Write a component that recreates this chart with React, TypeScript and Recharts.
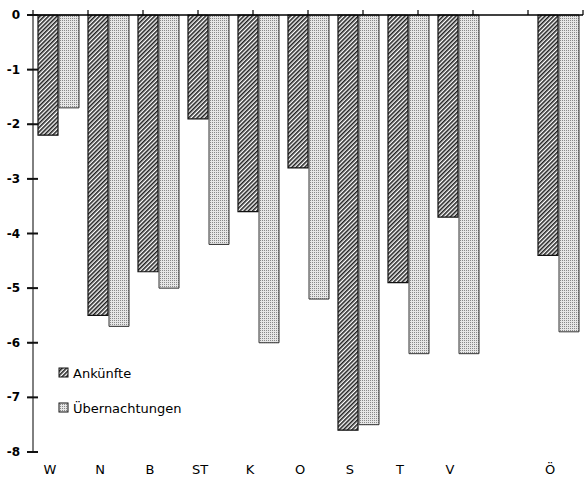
import React from 'react'
import { BarChart, Bar, XAxis, YAxis } from 'recharts'

const regions = ['W', 'N', 'B', 'ST', 'K', 'O', 'S', 'T', 'V', '', 'Ö']
const ankuenfte = [-2.2, -5.5, -4.7, -1.9, -3.6, -2.8, -7.6, -4.9, -3.7, null, -4.4]
const uebernachtungen = [-1.7, -5.7, -5.0, -4.2, -6.0, -5.2, -7.5, -6.2, -6.2, null, -5.8]
const yTicks = [0, -1, -2, -3, -4, -5, -6, -7, -8]
const slotTicks = [0, 1, 2, 3, 4, 5, 6, 7, 8, 9, 10, 11]

const data = regions.map((r, i) => ({ r, a: ankuenfte[i], u: uebernachtungen[i] }))

const font = '"DejaVu Sans", sans-serif'

function Patterns({ p }: { p: string }) {
  return (
    <defs>
      <pattern id={p + 'hatch'} width="3" height="3" patternUnits="userSpaceOnUse" patternTransform="rotate(45)">
        <rect width="3" height="3" fill="#fff" />
        <rect x="0" y="0" width="1.6" height="3" fill="#222" />
      </pattern>
      <pattern id={p + 'dots'} width="2" height="2" patternUnits="userSpaceOnUse">
        <rect width="2" height="2" fill="#e6e6e6" />
        <rect x="0" y="0" width="1" height="1" fill="#888" />
      </pattern>
    </defs>
  )
}

// y tick: mark crossing the axis, bold label on the left
const renderYTick = (props: any) => {
  const { x, y, payload } = props
  return (
    <g>
      <rect x={x + 3} y={y - 1} width={11} height={2} fill="#111" />
      <text x={x - 4} y={y + 4} textAnchor="end" fontSize={12} fontWeight="bold" fontFamily={font} fill="#000">
        {payload.value}
      </text>
    </g>
  )
}

const renderXTick = (props: any) => {
  const { x, y, payload } = props
  return (
    <text x={x - 8} y={y + 14} textAnchor="middle" fontSize={13} fontFamily={font} fill="#000">
      {payload.value}
    </text>
  )
}

// small upward marks on the zero line at category boundaries
const renderTopTick = (props: any) => {
  const { x, y } = props
  return <rect x={x - 0.6} y={y - 5} width={1.2} height={5} fill="#000" />
}

export default function App() {
  return (
    <div style={{ position: 'absolute', left: 0, top: 0, width: 585, height: 485, background: '#fff' }}>
      <BarChart width={585} height={485} data={data} margin={{ top: 14, right: 2, bottom: 0, left: 0 }}
        barGap={1} barCategoryGap="10%">
        <Patterns p="c" />
        <XAxis dataKey="r" xAxisId="cat" axisLine={false} tickLine={false} height={33} tick={renderXTick} interval={0} />
        <XAxis xAxisId="top" orientation="top" type="number" domain={[0, 11]} ticks={slotTicks} allowDataOverflow
          height={1} axisLine={{ stroke: '#000', strokeWidth: 1.3 }} tickLine={false}
          tickSize={0} tickMargin={0} interval={0} tick={renderTopTick} />
        <YAxis domain={[-8, 0]} ticks={yTicks} width={33} tickSize={5} tickMargin={4} interval={0}
          stroke="#000" tick={renderYTick} />
        <Bar xAxisId="cat" dataKey="a" fill="url(#chatch)" stroke="#111" strokeWidth={1.2} isAnimationActive={false} />
        <Bar xAxisId="cat" dataKey="u" fill="url(#cdots)" stroke="#333" strokeWidth={1} isAnimationActive={false} />
      </BarChart>
      <div style={{ position: 'absolute', left: 58, top: 366, fontFamily: font, fontSize: 13 }}>
        <svg width={12} height={12} style={{ verticalAlign: -1, marginRight: 3 }}>
          <Patterns p="l" />
          <rect x={1} y={1} width={9} height={9} fill="url(#lhatch)" stroke="#111" />
        </svg>
        Ankünfte
      </div>
      <div style={{ position: 'absolute', left: 58, top: 401, fontFamily: font, fontSize: 13 }}>
        <svg width={12} height={12} style={{ verticalAlign: -1, marginRight: 3 }}>
          <Patterns p="m" />
          <rect x={1} y={1} width={9} height={9} fill="url(#mdots)" stroke="#111" />
        </svg>
        Übernachtungen
      </div>
    </div>
  )
}
